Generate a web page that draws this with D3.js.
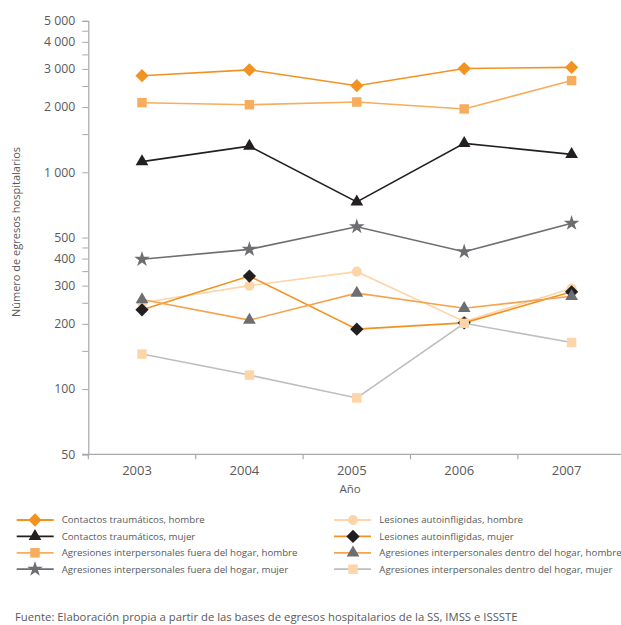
<!DOCTYPE html>
<html>
<head>
<meta charset="utf-8">
<script src="https://cdn.jsdelivr.net/npm/d3@7"></script>
<style>
  html, body { margin: 0; padding: 0; background: #fff; }
  svg { display: block; font-family: "Open Sans", sans-serif; }
</style>
</head>
<body>
<svg id="chart" width="621" height="625"></svg>
<script>
// ---- Data ----
const years = ["2003", "2004", "2005", "2006", "2007"];
const contactosHombre = [2790, 2970, 2510, 3010, 3050];
const contactosMujer = [1120, 1320, 730, 1360, 1210];
const fueraHombre = [2095, 2050, 2110, 1960, 2650];
const fueraMujer = [397, 441, 561, 430, 582];
const lesionesHombre = [250, 300, 348, 205, 291];
const lesionesMujer = [232, 332, 189, 202, 281];
const dentroHombre = [259, 208, 277, 236, 268];
const dentroMujer = [145, 116, 91, 201, 164];

const yTickValues = [5000, 4500, 4000, 3500, 3000, 2500, 2000, 1500, 1000, 500, 450, 400, 350, 300, 250, 200, 150, 100, 50];
const yTickLabels = [5000, 4000, 3000, 2000, 1000, 500, 400, 300, 200, 100, 50];

const seriesNames = [
  "Contactos traumáticos, hombre",
  "Contactos traumáticos, mujer",
  "Agresiones interpersonales fuera del hogar, hombre",
  "Agresiones interpersonales fuera del hogar, mujer",
  "Lesiones autoinfligidas, hombre",
  "Lesiones autoinfligidas, mujer",
  "Agresiones interpersonales dentro del hogar, hombre",
  "Agresiones interpersonales dentro del hogar, mujer"
];
const seriesValues = [contactosHombre, contactosMujer, fueraHombre, fueraMujer,
  lesionesHombre, lesionesMujer, dentroHombre, dentroMujer];

// ---- Styles ----
const styles = [
  { line: "#f29222", fill: "#f29222", sym: "diamond", size: 88 },
  { line: "#231f20", fill: "#231f20", sym: "triangle", size: 70 },
  { line: "#f8ac5e", fill: "#f8ac5e", sym: "square", size: 90 },
  { line: "#6d6e71", fill: "#6d6e71", sym: "star", size: 75 },
  { line: "#fdd5a8", fill: "#fdd5a8", sym: "circle", size: 80 },
  { line: "#f29222", fill: "#231f20", sym: "diamond", size: 88 },
  { line: "#f6a24e", fill: "#6d6e71", sym: "triangle", size: 70 },
  { line: "#bcbec0", fill: "#fdd5a8", sym: "square", size: 90 }
];
const symTypes = { diamond: d3.symbolSquare, triangle: d3.symbolTriangle, square: d3.symbolSquare, star: d3.symbolStar, circle: d3.symbolCircle };

const svg = d3.select("#chart");
svg.append("rect").attr("width", 621).attr("height", 625).attr("fill", "#fff");

const axisColor = "#a7a9ac";
const textColor = "#58595b";

// ---- Scales ----
const x = d3.scaleBand().domain(years).range([88.3, 88.3 + 5 * 107.4]).paddingInner(0).paddingOuter(0);
const y = d3.scaleLog().domain([50, 5000]).range([454.3, 20.8]);

// ---- Y axis ----
const fmt = d => d3.format(",")(d).replace(/,/g, " ");
const yAxis = d3.axisLeft(y).tickValues(yTickValues).tickSize(6).tickPadding(7)
  .tickFormat(d => yTickLabels.includes(d) ? fmt(d) : "");
const gy = svg.append("g").attr("transform", "translate(88.3,0)").call(yAxis);
gy.select(".domain").attr("stroke", axisColor).attr("stroke-width", 1.2);
gy.selectAll(".tick line").attr("stroke", axisColor);
gy.selectAll(".tick text").attr("fill", textColor).attr("font-size", 12.3)
  .attr("font-family", "Open Sans").style("white-space", "pre");

// ---- X axis ----
const gx = svg.append("g").attr("transform", "translate(0,454.3)");
gx.append("line").attr("x1", x.range()[0] - 6).attr("x2", x.range()[1])
  .attr("stroke", axisColor).attr("stroke-width", 1.2);
const boundaries = years.map(d => x(d)).concat([x(years[years.length - 1]) + x.bandwidth()]);
gx.selectAll("line.tk").data(boundaries).enter().append("line").attr("class", "tk")
  .attr("x1", d => d).attr("x2", d => d).attr("y1", 0).attr("y2", 5)
  .attr("stroke", axisColor).attr("stroke-width", 1.2);
gx.selectAll("text.lbl").data(years).enter().append("text").attr("class", "lbl")
  .attr("x", d => x(d) + x.bandwidth() / 2 - 5).attr("y", 21)
  .attr("text-anchor", "middle").attr("fill", textColor).attr("font-size", 13)
  .text(d => d);

// Axis titles
svg.append("text").attr("x", 350).attr("y", 493).attr("text-anchor", "middle")
  .attr("fill", textColor).attr("font-size", 11.5).text("Año");
svg.append("text").attr("transform", "translate(20,232) rotate(-90)").attr("text-anchor", "middle")
  .attr("fill", textColor).attr("font-size", 11).text("Número de egresos hospitalarios");

// ---- Series ----
const cx = d => x(d) + x.bandwidth() / 2;
const line = d3.line().x(d => cx(d.year)).y(d => y(d.value));

function symbolPath(st) {
  return d3.symbol().type(symTypes[st.sym]).size(st.size)();
}
function symbolTransform(st, px, py) {
  return `translate(${px},${py})` + (st.sym === "diamond" ? " rotate(45)" : "");
}

seriesValues.forEach((vals, i) => {
  const st = styles[i];
  const data = years.map((yr, j) => ({ year: yr, value: vals[j] }));
  const g = svg.append("g");
  g.append("path").datum(data).attr("d", line).attr("fill", "none")
    .attr("stroke", st.line).attr("stroke-width", 1.6);
  g.selectAll("path.pt").data(data).enter().append("path").attr("class", "pt")
    .attr("d", symbolPath(st))
    .attr("transform", d => symbolTransform(st, cx(d.year), y(d.value)))
    .attr("fill", st.fill);
});

// ---- Legend ----
const legendCols = [{ lx: 16.7, mx: 35, tx: 61.7 }, { lx: 334, mx: 353, tx: 379.3 }];
const legend = svg.append("g");
seriesNames.forEach((name, i) => {
  const col = legendCols[i < 4 ? 0 : 1];
  const row = i % 4;
  const ly = 520 + row * 16.4;
  const st = styles[i];
  legend.append("line").attr("x1", col.lx).attr("x2", col.lx + 37).attr("y1", ly).attr("y2", ly)
    .attr("stroke", st.line).attr("stroke-width", 1.8);
  legend.append("path").attr("d", symbolPath(st)).attr("transform", symbolTransform(st, col.mx, ly))
    .attr("fill", st.fill);
  legend.append("text").attr("x", col.tx).attr("y", ly).attr("dy", "0.35em")
    .attr("fill", textColor).attr("font-size", 9.7).text(name);
});

// ---- Source ----
svg.append("text").attr("x", 15).attr("y", 621).attr("fill", textColor).attr("font-size", 11.3)
  .text("Fuente: Elaboración propia a partir de las bases de egresos hospitalarios de la SS, IMSS e ISSSTE");
</script>
</body>
</html>
